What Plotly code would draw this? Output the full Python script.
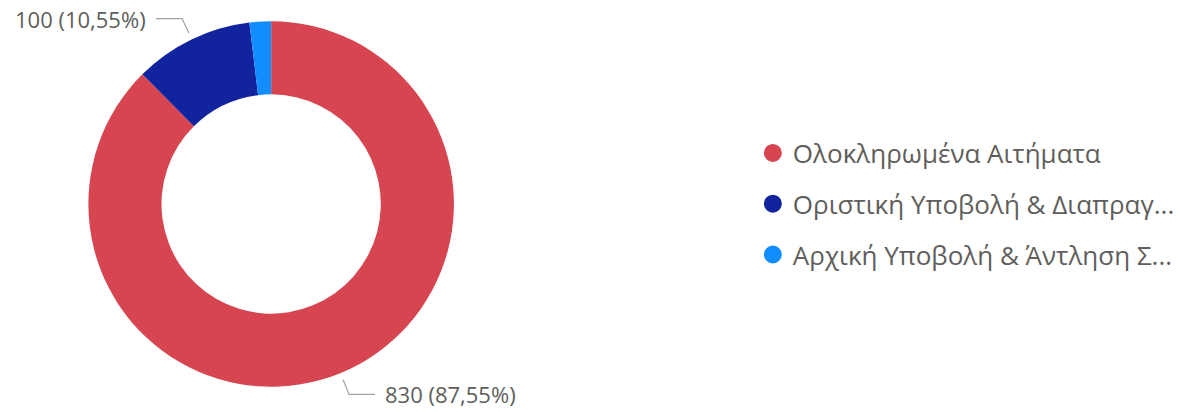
import math
import plotly.graph_objects as go

labels = ["Ολοκληρωμένα Αιτήματα", "Οριστική Υποβολή & Διαπραγ...", "Αρχική Υποβολή & Άντληση Σ..."]
values = [830, 100, 18]
colors = ["#D64550", "#12239E", "#118DFF"]
show_label = [True, True, False]

W, H = 1180, 412
CX, CY, R = 273, 204, 184
FONT = "Open Sans, Noto Sans, sans-serif"
TXT = "#605E5C"

fig = go.Figure()
fig.add_trace(go.Pie(
    labels=labels, values=values, hole=0.6, sort=False, direction="clockwise",
    rotation=0, marker=dict(colors=colors, line=dict(width=0)),
    textinfo="none", hoverinfo="label+value+percent", showlegend=False,
    domain=dict(x=[(CX - R) / W, (CX + R) / W], y=[1 - (CY + R) / H, 1 - (CY - R) / H]),
))

# legend via dummy scatter traces (circle markers)
for i, (lab, col) in enumerate(zip(labels, colors)):
    fig.add_trace(go.Scatter(x=[None], y=[None], mode="markers", name=lab,
                             legendgroup=f"g{i}",
                             marker=dict(color=col, size=16, symbol="circle",
                                         line=dict(color=col, width=2))))

total = sum(values)
cum = 0
for v, show in zip(values, show_label):
    mid = (cum + v / 2) / total * 2 * math.pi
    cum += v
    if not show:
        continue
    pct = v / total * 100
    text = f"{v} ({pct:.2f}%)".replace(".", ",")
    sx, sy = CX + (R + 6) * math.sin(mid), CY - (R + 6) * math.cos(mid)
    ex, ey = CX + (R + 22) * math.sin(mid), CY - (R + 22) * math.cos(mid)
    side = 1 if math.sin(mid) >= 0 else -1
    hx = ex + side * 26
    path = f"M {sx/W},{1-sy/H} L {ex/W},{1-ey/H} L {hx/W},{1-ey/H}"
    fig.add_shape(type="path", xref="paper", yref="paper", path=path,
                  line=dict(color="#A0A0A0", width=1.2))
    fig.add_annotation(xref="paper", yref="paper", x=(hx + side * 8) / W, y=1 - ey / H,
                       text=text, showarrow=False,
                       xanchor="left" if side > 0 else "right", yanchor="middle",
                       font=dict(family=FONT, size=22, color=TXT))

fig.update_layout(
    width=W, height=H, margin=dict(l=0, r=0, t=0, b=0),
    paper_bgcolor="white", plot_bgcolor="white",
    xaxis=dict(visible=False), yaxis=dict(visible=False),
    legend=dict(x=758 / W, y=1 - 204 / H, xanchor="left", yanchor="middle",
                font=dict(family=FONT, size=26, color=TXT),
                tracegroupgap=14, itemsizing="trace", bgcolor="rgba(0,0,0,0)"),
)

fig.write_html("out.html", config={"displayModeBar": False},
               post_script="document.body.style.margin='0';")
